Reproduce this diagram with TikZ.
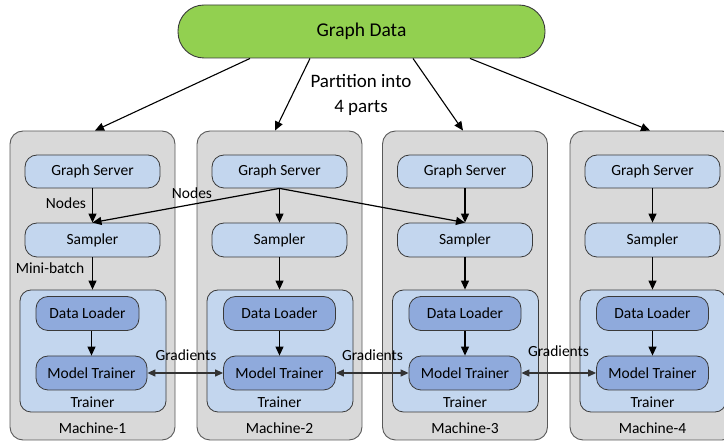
\documentclass[tikz,border=0pt]{standalone}
\usepackage{fontspec}
\setmainfont{Carlito}
\usetikzlibrary{arrows.meta,calc}
\definecolor{machfill}{HTML}{D9D9D9}
\definecolor{machdraw}{HTML}{595959}
\definecolor{lightblue}{HTML}{C3D6EE}
\definecolor{darkblue}{HTML}{8FAADC}
\definecolor{gdgreen}{HTML}{92D050}
\definecolor{boxdraw}{HTML}{3A3A3A}
\tikzset{
  machine/.style={draw=machdraw, fill=machfill, line width=0.9pt, rounded corners=13pt, minimum width=165pt, minimum height=309pt, inner sep=0pt},
  lbox/.style={draw=boxdraw, fill=lightblue, line width=0.8pt, rounded corners=12pt, minimum width=135pt, minimum height=33pt, inner sep=0pt, font=\fontsize{15.5}{18}\selectfont},
  tbox/.style={draw=boxdraw, fill=lightblue, line width=0.8pt, rounded corners=11pt, minimum width=146pt, minimum height=122pt, inner sep=0pt},
  dbox/.style={draw=boxdraw, fill=darkblue, line width=0.8pt, rounded corners=12pt, minimum width=112pt, minimum height=34pt, inner sep=0pt, font=\fontsize{15.5}{18}\selectfont},
  lbl/.style={font=\fontsize{15.5}{18}\selectfont, inner sep=0pt},
  arr/.style={line width=1.2pt, -{Triangle[length=9pt,width=8pt]}},
  darr/.style={line width=1.2pt, draw=black!80, {Triangle[length=8pt,width=7pt]}-{Triangle[length=8pt,width=7pt]}},
}
\begin{document}
\begin{tikzpicture}[x=1pt,y=-1pt]
\useasboundingbox (0,0) rectangle (724,443);
\clip (0,0) rectangle (724,443);
% top node
\node[draw=boxdraw, fill=gdgreen, line width=0.9pt, rounded corners=26pt, minimum width=367pt, minimum height=53pt, inner sep=0pt, font=\fontsize{19.5}{22}\selectfont] (gd) at (361.5,31.5) {Graph Data};
\node[align=center, font=\fontsize{19}{25}\selectfont, inner sep=0pt] (part) at (361,94.5) {Partition into\\4 parts};
% machines
\foreach \i/\mc in {1/92.5,2/279.5,3/465,4/652.5}{
  \node[machine] (m\i) at (\mc,285.5) {};
  \node[lbox] (gs\i) at (\mc,171.5) {Graph Server};
  \node[lbox, minimum height=34pt] (sa\i) at (\mc,240) {Sampler};
  \node[tbox] (tb\i) at (\mc+0.5,351) {};
  \node[lbl] (tl\i) at (\mc,402) {Trainer};
  \node[lbl] (ml\i) at (\mc,428) {Machine-\i};
}
\foreach \i/\mc in {2/279.5,3/465,4/652.5}{
  \node[dbox] (dl\i) at (\mc,313.5) {Data Loader};
  \node[dbox] (mt\i) at (\mc,373) {Model Trainer};
}
\node[dbox, minimum width=103pt] (dl1) at (87.5,313.5) {Data Loader};
\node[dbox, minimum width=111pt] (mt1) at (91.5,373) {Model Trainer};
% arrows from graph data
\draw[line width=1.1pt, -{Triangle[length=9pt,width=8pt]}] ($(gd.south)+(-111.5,0)$) -- ($(m1.north)+(2.5,0)$);
\draw[line width=1.1pt, -{Triangle[length=9pt,width=8pt]}] ($(gd.south)+(-51.5,0)$) -- ($(m2.north)+(-4.5,0)$);
\draw[line width=1.1pt, -{Triangle[length=9pt,width=8pt]}] ($(gd.south)+(51.5,0)$) -- ($(m3.north)+(-2,0)$);
\draw[line width=1.1pt, -{Triangle[length=9pt,width=8pt]}] ($(gd.south)+(108.5,0)$) -- ($(m4.north)+(-2.5,0)$);
% internal arrows
\foreach \i in {1,...,4}{
  \draw[arr] (gs\i.south) -- (sa\i.north);
  \draw[arr] (sa\i.south) -- (tb\i.north -| sa\i.south);
  \draw[arr] (dl\i.south -| mt\i.north) -- (mt\i.north);
}
% cross nodes arrows
\draw[arr] (gs2.south) -- (sa1.north);
\draw[arr] (gs2.south) -- (sa3.north);
\node[lbl] (nl1) at (66,203) {Nodes};
\node[lbl] (nl2) at (192,193) {Nodes};
\node[lbl] (mb) at (50,268) {Mini-batch};
% gradients
\draw[darr] (mt1.east) -- (mt2.west);
\draw[darr] (mt2.east) -- (mt3.west);
\draw[darr] (mt3.east) -- (mt4.west);
\node[lbl] (g1) at (186,355) {Gradients};
\node[lbl] (g2) at (372.5,355) {Gradients};
\node[lbl] (g3) at (558.5,351) {Gradients};
\end{tikzpicture}
\end{document}
